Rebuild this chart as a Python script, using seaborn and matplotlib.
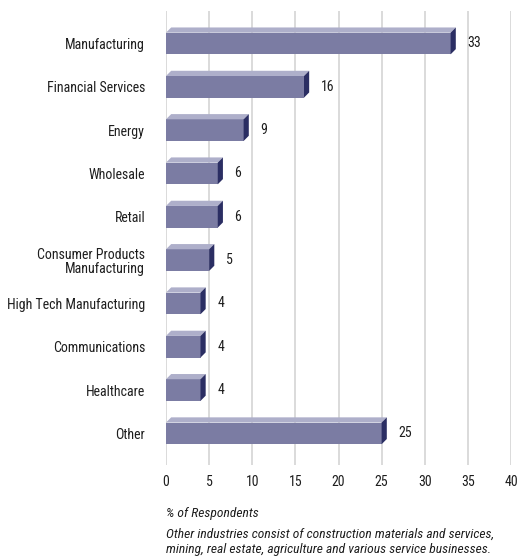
import matplotlib
matplotlib.use("Agg")
import matplotlib.pyplot as plt
from matplotlib.patches import Polygon
import seaborn as sns
import pandas as pd

industries = [
    "Manufacturing",
    "Financial Services",
    "Energy",
    "Wholesale",
    "Retail",
    "Consumer Products\nManufacturing",
    "High Tech Manufacturing",
    "Communications",
    "Healthcare",
    "Other",
]
respondents = [33, 16, 9, 6, 6, 5, 4, 4, 4, 25]
x_ticks = [0, 5, 10, 15, 20, 25, 30, 35, 40]
axis_note = "% of Respondents"
footnote = ("Other industries consist of construction materials and services,\n"
            "mining, real estate, agriculture and various service businesses.")

FRONT = "#7b7ca3"
TOP = "#aeafca"
SIDE = "#2b2e63"
GRID = "#d4d4d4"
INK = "#1e1e1e"

sns.set_theme(style="white")
plt.rcParams["font.family"] = ["Roboto Condensed", "DejaVu Sans"]
FS = 10
FS_NOTE = 9.7

df = pd.DataFrame({"industry": industries, "pct": respondents})

fig = plt.figure(figsize=(5.22, 5.59), dpi=100)
W, H = 522, 559
ax = fig.add_axes([166 / W, 1 - 465 / H, (511 - 166) / W, (465 - 11) / H])

sns.barplot(data=df, x="pct", y="industry", orient="h", color=FRONT,
            width=0.5, saturation=1, ax=ax, zorder=3, linewidth=0)

ax.set_xlim(0, 40)
ax.set_ylim(9.73, -0.75)

# depth of the extruded faces, in data units
dx, dy = 0.6, 0.12
for p in list(ax.patches):
    x0 = p.get_x()
    x1 = x0 + p.get_width()
    yt = p.get_y()
    yb = yt + p.get_height()
    if yt > yb:
        yt, yb = yb, yt
    top = Polygon([(x0, yt), (x1, yt), (x1 + dx, yt - dy), (x0 + dx, yt - dy)],
                  closed=True, facecolor=TOP, edgecolor="none", zorder=3)
    side = Polygon([(x1, yt), (x1 + dx, yt - dy), (x1 + dx, yb - dy), (x1, yb)],
                   closed=True, facecolor=SIDE, edgecolor="none", zorder=3)
    ax.add_patch(top)
    ax.add_patch(side)

for i, v in enumerate(respondents):
    ax.text(v + dx + 1.35, i, str(v), va="center", ha="left",
            fontsize=FS, color=INK)

ax.set_xticks(x_ticks)
ax.set_xticklabels([str(t) for t in x_ticks], fontsize=FS, color=INK)
ax.tick_params(axis="x", length=0, pad=7)
ax.tick_params(axis="y", length=0, pad=15, labelsize=FS, labelcolor=INK)
for lbl in ax.get_yticklabels():
    lbl.set_horizontalalignment("right")
    lbl.set_multialignment("right")
    lbl.set_linespacing(1.0)

ax.grid(axis="x", color=GRID, linewidth=1.2, zorder=0)
ax.grid(axis="y", visible=False)
for s in ax.spines.values():
    s.set_visible(False)
ax.set_xlabel("")
ax.set_ylabel("")

fig.text(166 / W, 1 - 513 / H, axis_note, fontsize=FS_NOTE, style="italic",
         color=INK, va="center", ha="left")
fig.text(166 / W, 1 - 542 / H, footnote, fontsize=FS_NOTE, style="italic",
         color=INK, va="center", ha="left", linespacing=1.25)

fig.savefig("out.png", dpi=100)
